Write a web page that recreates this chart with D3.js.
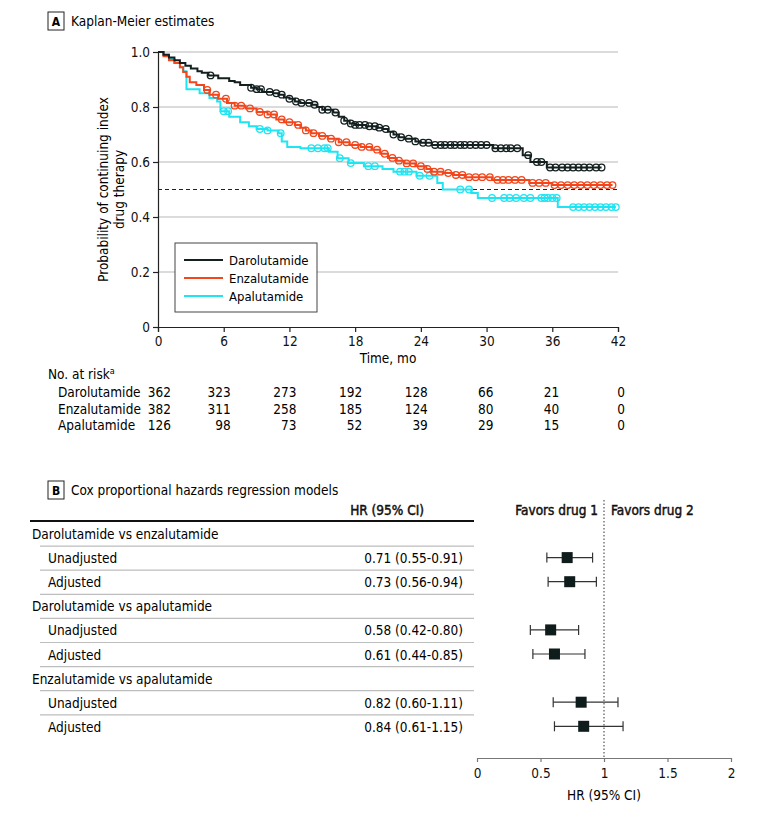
<!DOCTYPE html>
<html><head><meta charset="utf-8">
<script src="https://cdn.jsdelivr.net/npm/d3@7"></script>
<style>
body{margin:0;background:#fff;}
svg{display:block;font-family:"DejaVu Sans Condensed","Open Sans",sans-serif;}
</style></head>
<body><svg id="c" width="780" height="814"></svg>
<script>
// ---------- DATA ----------
const seriesNames = ["Darolutamide","Enzalutamide","Apalutamide"];
const seriesColors = ["#142020","#f2461c","#1fe4f2"];
// step change points [time (mo), survival after the step]
const daroSteps = [[0,1.0],[0.5,0.99],[1.0,0.98],[1.5,0.97],[2.0,0.96],[2.5,0.95],[3.0,0.94],[3.6,0.93],[4.0,0.925],[4.6,0.915],[5.5,0.905],[6.5,0.895],[7.0,0.89],[7.5,0.88],[8.5,0.87],[9.0,0.865],[9.5,0.855],[10.5,0.85],[11.0,0.845],[11.5,0.835],[12.0,0.83],[12.5,0.82],[13.0,0.815],[14.0,0.808],[14.5,0.80],[15.0,0.79],[16.0,0.78],[16.5,0.765],[17.0,0.75],[17.5,0.74],[18.0,0.735],[19.0,0.73],[20.0,0.725],[20.5,0.72],[21.0,0.71],[21.5,0.70],[22.0,0.69],[22.5,0.685],[23.5,0.675],[24.0,0.67],[25.0,0.662],[30.6,0.65],[33.3,0.625],[34.0,0.60],[35.5,0.58]];
const daroEnd = 40.5;
const enzaSteps = [[0,1.0],[0.5,0.985],[1.0,0.97],[1.5,0.96],[2.0,0.945],[2.3,0.927],[2.6,0.91],[2.9,0.89],[3.5,0.88],[4.2,0.862],[4.7,0.845],[5.5,0.83],[6.3,0.815],[7.0,0.805],[8.0,0.795],[9.0,0.782],[10.0,0.773],[10.8,0.755],[11.5,0.745],[12.5,0.735],[13.0,0.725],[13.5,0.715],[14.0,0.705],[14.7,0.695],[15.5,0.685],[16.5,0.672],[17.5,0.662],[18.5,0.655],[19.5,0.645],[20.3,0.63],[21.0,0.615],[21.8,0.605],[22.5,0.595],[23.5,0.585],[24.5,0.575],[25.0,0.565],[26.0,0.56],[27.0,0.553],[28.0,0.545],[30.5,0.535],[33.9,0.524],[36.0,0.516]];
const enzaEnd = 41.5;
const apaSteps = [[0,1.0],[0.5,0.99],[1.0,0.975],[1.5,0.96],[2.0,0.945],[2.3,0.93],[2.6,0.865],[3.8,0.85],[4.7,0.833],[5.4,0.82],[5.7,0.785],[6.5,0.765],[7.5,0.745],[8.3,0.73],[9.0,0.72],[10.0,0.715],[11.0,0.705],[11.3,0.675],[11.8,0.655],[13.0,0.65],[15.6,0.637],[16.4,0.614],[17.4,0.596],[18.8,0.585],[20.5,0.575],[21.5,0.565],[23.6,0.55],[25.5,0.524],[26.0,0.50],[28.6,0.487],[29.2,0.469],[36.5,0.436]];
const apaEnd = 41.8;
const daroCensor = [4.8,8.5,9.0,9.4,10.2,10.8,11.3,12.0,12.6,13.1,13.8,14.3,15.0,15.5,16.2,17.0,17.6,18.0,18.4,18.9,19.3,19.8,20.2,20.8,21.5,22.2,22.9,23.5,24.2,24.7,25.3,25.8,26.2,26.7,27.1,27.6,28.0,28.5,29.0,29.5,30.0,30.8,31.3,31.8,32.2,32.8,33.8,34.6,35.0,35.8,36.3,36.9,37.4,37.9,38.4,38.9,39.4,40.0,40.5];
const enzaCensor = [4.5,5.3,6.2,7.0,7.6,8.4,9.3,10.0,10.6,11.3,12.0,12.8,13.5,14.2,15.0,15.8,16.5,17.2,18.0,18.6,19.3,20.0,20.7,21.4,22.0,22.7,23.3,24.0,24.6,25.2,25.8,26.5,27.2,27.8,28.4,29.0,29.6,30.3,31.0,31.5,32.0,32.6,33.2,34.2,34.8,35.4,36.2,36.8,37.4,38.0,38.6,39.2,39.8,40.4,41.0,41.5];
const apaCensor = [6.0,6.4,9.3,10.0,11.2,14.0,14.6,15.2,15.5,16.6,17.6,19.2,19.8,22.1,22.5,22.9,23.9,24.8,27.6,28.4,30.5,31.6,32.1,32.7,33.4,34.0,35.0,35.3,35.6,36.0,36.4,37.9,38.4,38.9,39.4,39.9,40.4,40.9,41.4,41.8];
const timeTicks = [0,6,12,18,24,30,36,42];
const probTicks = [0,0.2,0.4,0.6,0.8,1.0];
const riskDaro = [362,323,273,192,128,66,21,0];
const riskEnza = [382,311,258,185,124,80,40,0];
const riskApa = [126,98,73,52,39,29,15,0];

const coxRows = ["Darolutamide vs enzalutamide","Unadjusted","Adjusted","Darolutamide vs apalutamide","Unadjusted","Adjusted","Enzalutamide vs apalutamide","Unadjusted","Adjusted"];
const coxHR = [null,0.71,0.73,null,0.58,0.61,null,0.82,0.84];
const coxLo = [null,0.55,0.56,null,0.42,0.44,null,0.60,0.61];
const coxHi = [null,0.91,0.94,null,0.80,0.85,null,1.11,1.15];
const hrTicks = [0,0.5,1,1.5,2];

// ---------- DRAW ----------
const svg = d3.select("#c");
const fs = 13.5;
const FF = "DejaVu Sans Condensed, Open Sans, sans-serif";
const x = d3.scaleLinear().domain([0,42]).range([158,618]);
const y = d3.scaleLinear().domain([0,1]).range([327,52]);

function panelLabel(px,py,letter,title){
  svg.append("rect").attr("x",px).attr("y",py).attr("width",16).attr("height",18)
    .attr("fill","#fff").attr("stroke","#222").attr("stroke-width",1);
  svg.append("text").attr("x",px+8).attr("y",py+13.5).attr("text-anchor","middle")
    .attr("font-size",12).attr("font-weight","bold").text(letter);
  svg.append("text").attr("x",px+23).attr("y",py+14).attr("font-size",fs).text(title);
}
panelLabel(48,12,"A","Kaplan-Meier estimates");

// gridlines
svg.append("g").selectAll("line").data(probTicks.filter(d=>d>0)).join("line")
  .attr("x1",x(0)).attr("x2",x(42)).attr("y1",d=>y(d)).attr("y2",d=>y(d))
  .attr("stroke","#b8b8b8").attr("stroke-width",1.2);
// dashed median line
svg.append("line").attr("x1",x(0)).attr("x2",x(42)).attr("y1",y(0.5)).attr("y2",y(0.5))
  .attr("stroke","#222").attr("stroke-width",1.2).attr("stroke-dasharray","4,3");

// axes
const xAx = svg.append("g").attr("transform",`translate(0,${y(0)})`)
  .call(d3.axisBottom(x).tickValues(timeTicks).tickSize(5).tickPadding(4));
const yAx = svg.append("g").attr("transform",`translate(${x(0)},0)`)
  .call(d3.axisLeft(y).tickValues(probTicks).tickFormat(d=>d===0?"0":d3.format(".1f")(d)).tickSize(5).tickPadding(3));
[xAx,yAx].forEach(g=>{
  g.select(".domain").attr("stroke","#222").attr("stroke-width",1.2);
  g.selectAll(".tick line").attr("stroke","#222").attr("stroke-width",1.2);
  g.selectAll("text").attr("font-size",fs).attr("font-family",FF).attr("fill","#111");
});
svg.append("text").attr("x",388).attr("y",363).attr("text-anchor","middle").attr("font-size",fs).text("Time, mo");
const yl = svg.append("text").attr("transform",`translate(108,${y(0.5)}) rotate(-90)`)
  .attr("text-anchor","middle").attr("font-size",fs);
yl.append("tspan").attr("x",0).attr("dy",0).text("Probability of continuing index");
yl.append("tspan").attr("x",0).attr("dy",15.5).text("drug therapy");

// curves
const allSteps = [daroSteps,enzaSteps,apaSteps];
const allEnds = [daroEnd,enzaEnd,apaEnd];
const allCensor = [daroCensor,enzaCensor,apaCensor];
function sAt(steps,t){let s=steps[0][1];for(const p of steps){if(p[0]<=t)s=p[1];}return s;}
const line = d3.line().x(d=>x(d[0])).y(d=>y(d[1])).curve(d3.curveStepAfter);
[2,1,0].forEach(i=>{
  const pts = allSteps[i].concat([[allEnds[i], allSteps[i][allSteps[i].length-1][1]]]);
  const g = svg.append("g");
  g.append("path").attr("d",line(pts)).attr("fill","none").attr("stroke",seriesColors[i]).attr("stroke-width",2);
  g.selectAll("circle").data(allCensor[i]).join("circle")
    .attr("cx",d=>x(d)).attr("cy",d=>y(sAt(allSteps[i],d))).attr("r",3.3)
    .attr("fill","none").attr("stroke",seriesColors[i]).attr("stroke-width",1.3);
});

// legend
const lg = svg.append("g");
lg.append("rect").attr("x",175).attr("y",243).attr("width",142).attr("height",69)
  .attr("fill","#fff").attr("stroke","#444").attr("stroke-width",1);
seriesNames.forEach((n,i)=>{
  const yy = 260+i*18;
  lg.append("line").attr("x1",184).attr("x2",223).attr("y1",yy).attr("y2",yy).attr("stroke",seriesColors[i]).attr("stroke-width",2.2);
  lg.append("text").attr("x",229).attr("y",yy+4.5).attr("font-size",13).text(n);
});

// risk table
const rt = svg.append("g");
const nr = rt.append("text").attr("x",48).attr("y",379).attr("font-size",fs).text("No. at risk");
nr.append("tspan").attr("font-size",9).attr("dy",-5).text("a");
[riskDaro,riskEnza,riskApa].forEach((arr,i)=>{
  const yy = 397+i*16.5;
  rt.append("text").attr("x",58).attr("y",yy).attr("font-size",fs).text(seriesNames[i]);
  rt.selectAll(null).data(arr).join("text")
    .attr("x",(d,j)=>x(timeTicks[j])+(j===0?13:7)).attr("y",yy).attr("text-anchor","end")
    .attr("font-size",fs).text(d=>d);
});

// ---------- PANEL B ----------
panelLabel(48,481,"B","Cox proportional hazards regression models");
const hx = d3.scaleLinear().domain([0,2]).range([477,731]);
const rowY = coxRows.map((d,i)=>534+i*24.1);
function semi(t){return t.attr("font-size",fs).attr("stroke","#111").attr("stroke-width",0.45).attr("fill","#111");}
semi(svg.append("text").attr("x",424).attr("y",515).attr("text-anchor","end").text("HR (95% CI)"));
semi(svg.append("text").attr("x",598).attr("y",515).attr("text-anchor","end").text("Favors drug 1"));
semi(svg.append("text").attr("x",611).attr("y",515).attr("text-anchor","start").text("Favors drug 2"));
svg.append("line").attr("x1",30).attr("x2",474).attr("y1",521).attr("y2",521).attr("stroke","#111").attr("stroke-width",2);
// row rules
rowY.slice(1).forEach(yy=>{
  svg.append("line").attr("x1",40).attr("x2",474).attr("y1",yy-12).attr("y2",yy-12).attr("stroke","#bdbdbd").attr("stroke-width",1.2);
});
coxRows.forEach((r,i)=>{
  const isHead = coxHR[i]===null;
  svg.append("text").attr("x",isHead?32:48).attr("y",rowY[i]+5).attr("font-size",fs).text(r);
  if(!isHead){
    svg.append("text").attr("x",463).attr("y",rowY[i]+5).attr("text-anchor","end").attr("font-size",fs)
      .text(`${coxHR[i].toFixed(2)} (${coxLo[i].toFixed(2)}-${coxHi[i].toFixed(2)})`);
  }
});
// null line
svg.append("line").attr("x1",hx(1)).attr("x2",hx(1)).attr("y1",500).attr("y2",758)
  .attr("stroke","#333").attr("stroke-width",1).attr("stroke-dasharray","1.5,2");
// forest marks
const fg = svg.append("g");
coxRows.forEach((r,i)=>{
  if(coxHR[i]===null) return;
  const yy = rowY[i]-0.5;
  fg.append("line").attr("x1",hx(coxLo[i])).attr("x2",hx(coxHi[i])).attr("y1",yy).attr("y2",yy).attr("stroke","#333").attr("stroke-width",1.2);
  [coxLo[i],coxHi[i]].forEach(v=>fg.append("line").attr("x1",hx(v)).attr("x2",hx(v)).attr("y1",yy-5).attr("y2",yy+5).attr("stroke","#333").attr("stroke-width",1.2));
  fg.append("rect").attr("x",hx(coxHR[i])-5.5).attr("y",yy-5.5).attr("width",11).attr("height",11).attr("fill","#0f1c1c");
});
const hAx = svg.append("g").attr("transform","translate(0,758)")
  .call(d3.axisBottom(hx).tickValues(hrTicks).tickFormat(d=>String(d)).tickSize(4).tickPadding(6).tickSizeOuter(0));
hAx.select(".domain").attr("stroke","#777").attr("stroke-width",1.2);
hAx.selectAll(".tick line").attr("stroke","#777").attr("stroke-width",1.2);
hAx.selectAll("text").attr("font-size",fs).attr("font-family",FF).attr("fill","#111");
svg.append("text").attr("x",hx(1)).attr("y",800).attr("text-anchor","middle").attr("font-size",fs).text("HR (95% CI)");
</script></body></html>
